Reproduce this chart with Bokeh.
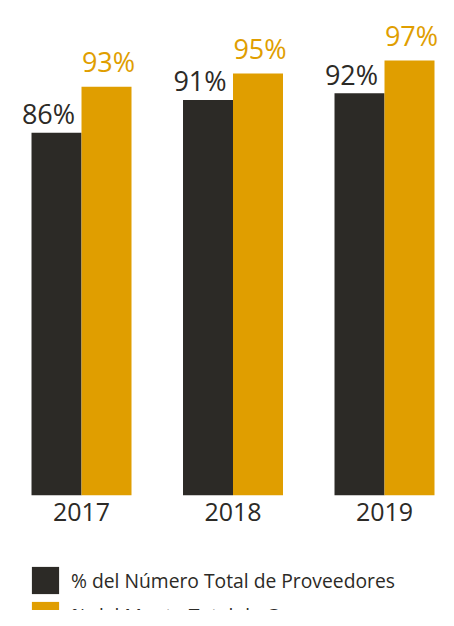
from bokeh.plotting import figure
from bokeh.models import (ColumnDataSource, Range1d, FixedTicker, Legend, LegendItem)
from bokeh.layouts import column
from bokeh.transform import dodge
from bokeh.core.properties import value
from bokeh.embed import file_html
from bokeh.resources import INLINE

years = ["2017", "2018", "2019"]
proveedores = [86, 91, 92]
compras = [93, 95, 97]
series_names = ["% del Número Total de Proveedores", "% del Monto Total de Compras"]

DARK = "#2c2a26"
GOLD = "#e09e00"
FONT = "Open Sans"

idx = list(range(len(years)))
src = ColumnDataSource(dict(
    x=idx,
    prov=proveedores,
    comp=compras,
    prov_lbl=[f"{v}%" for v in proveedores],
    comp_lbl=[f"{v}%" for v in compras],
))

p = figure(width=438, height=535, output_backend="svg", toolbar_location=None,
           x_range=Range1d(-0.5347, 2.3564), y_range=Range1d(30.9, 106.1),
           min_border_left=0, min_border_right=0, min_border_top=0,
           min_border_bottom=40, y_axis_location=None)
p.outline_line_color = None
p.xgrid.visible = False
p.ygrid.visible = False
p.background_fill_color = "white"
p.border_fill_color = "white"

w = 0.33
p.vbar(x=dodge("x", -w / 2), top="prov", bottom=0, width=w, source=src,
       fill_color=DARK, line_color=None)
p.vbar(x=dodge("x", w / 2), top="comp", bottom=0, width=w, source=src,
       fill_color=GOLD, line_color=None)

p.text(x=dodge("x", -w / 2), y="prov", text="prov_lbl", source=src,
       x_offset=-8, y_offset=-19, text_align="center", text_baseline="alphabetic",
       text_font=value(FONT), text_font_size="27px", text_color=DARK)
p.text(x=dodge("x", w / 2), y="comp", text="comp_lbl", source=src,
       x_offset=2, y_offset=-25, text_align="center", text_baseline="alphabetic",
       text_font=value(FONT), text_font_size="27px", text_color=GOLD)

ax = p.xaxis[0]
ax.ticker = FixedTicker(ticks=idx)
ax.major_label_overrides = {i: y for i, y in zip(idx, years)}
ax.axis_line_color = None
ax.major_tick_line_color = None
ax.major_tick_out = 0
ax.major_tick_in = 0
ax.minor_tick_line_color = None
ax.major_label_standoff = 7
ax.major_label_text_font = FONT
ax.major_label_text_font_size = "25px"
ax.major_label_text_color = DARK

# legend panel (proxy renderers share the chart data but are hidden)
lg = figure(width=438, height=75, output_backend="svg", toolbar_location=None,
            x_range=Range1d(0, 1), y_range=Range1d(0, 1),
            min_border_left=0, min_border_right=0, min_border_top=0,
            min_border_bottom=0, x_axis_location=None, y_axis_location=None)
lg.outline_line_color = None
lg.xgrid.visible = False
lg.ygrid.visible = False
lg.background_fill_color = "white"
lg.border_fill_color = "white"
d1 = lg.vbar(x="x", top="prov", width=w, source=src, fill_color=DARK,
             line_color=None, visible=False)
d2 = lg.vbar(x="x", top="comp", width=w, source=src, fill_color=GOLD,
             line_color=None, visible=False)

legend = Legend(items=[LegendItem(label=series_names[0], renderers=[d1]),
                       LegendItem(label=series_names[1], renderers=[d2])],
                orientation="vertical", location=(28, -22),
                margin=0, padding=0, spacing=1,
                glyph_width=34, glyph_height=34, label_height=34,
                label_standoff=9, label_text_font=FONT,
                label_text_font_size="19.3px", label_text_color=DARK,
                border_line_color=None, background_fill_alpha=0,
                click_policy="none", inactive_fill_alpha=0)
lg.add_layout(legend, "center")

layout = column(p, lg, spacing=0)
open("out.html", "w").write(file_html(layout, INLINE))
